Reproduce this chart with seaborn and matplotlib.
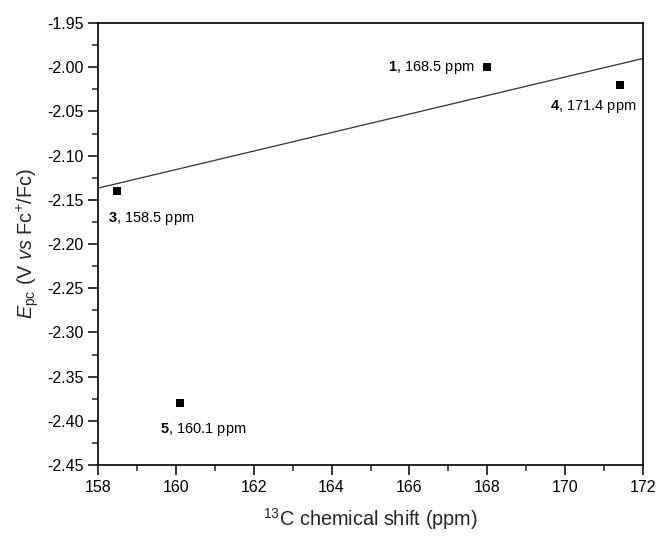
import numpy as np
import pandas as pd
import matplotlib
matplotlib.use("Agg")
import matplotlib.pyplot as plt
from matplotlib.ticker import MultipleLocator, FormatStrFormatter
import seaborn as sns

# Data
compound_ids = ["1", "4", "3", "5"]
shift_labels = ["168.5", "171.4", "158.5", "160.1"]
shift_ppm = [168.0, 171.4, 158.5, 160.1]
epc_values = [-2.00, -2.02, -2.14, -2.38]
in_fit = [True, True, True, False]

df = pd.DataFrame({"id": compound_ids, "lab": shift_labels,
                   "x": shift_ppm, "y": epc_values, "fit": in_fit})

sns.set_style("ticks")
plt.rcParams["font.family"] = ["Liberation Sans", "DejaVu Sans"]
plt.rcParams["axes.unicode_minus"] = False
plt.rcParams["mathtext.fontset"] = "custom"
plt.rcParams["mathtext.rm"] = "Liberation Sans"
plt.rcParams["mathtext.it"] = "Liberation Sans:italic"
plt.rcParams["mathtext.bf"] = "Liberation Sans:bold"

fig = plt.figure(figsize=(6.58, 5.39), dpi=100)
ax = fig.add_axes([98/658, 1-465/539, (643-98)/658, (465-23)/539])
ax.set_xlim(158, 172)
ax.set_ylim(-2.45, -1.95)

# regression line (points 1, 3, 4) extended across the axis
sns.regplot(data=df[df["fit"]], x="x", y="y", ax=ax, scatter=False,
            ci=None, truncate=False,
            line_kws=dict(color="#333333", lw=0.9))

sns.scatterplot(data=df, x="x", y="y", ax=ax, marker="s", s=30,
                color="black", edgecolor="black", linewidth=0, zorder=5)

offsets = {"1": (-13, 0, "right"), "4": (17, -22, "right"),
           "3": (-9, -28, "left"), "5": (-20, -26, "left")}
for _, r in df.iterrows():
    dx, dy, ha = offsets[r["id"]]
    ax.annotate(r"$\mathbf{" + r["id"] + "}$" + f", {r['lab']} ppm",
                (r["x"], r["y"]), xytext=(dx, dy), textcoords="offset pixels",
                ha=ha, va="center", fontsize=10.5, color="black")

ax.xaxis.set_major_locator(MultipleLocator(2))
ax.xaxis.set_minor_locator(MultipleLocator(1))
ax.yaxis.set_major_locator(MultipleLocator(0.05))
ax.yaxis.set_minor_locator(MultipleLocator(0.025))
ax.yaxis.set_major_formatter(FormatStrFormatter("%.2f"))
ax.xaxis.set_major_formatter(FormatStrFormatter("%d"))
ax.tick_params(which="major", direction="out", length=7, width=1.1,
               labelsize=11.5, colors="black", top=False, right=False)
ax.tick_params(which="minor", direction="out", length=4, width=1.1,
               top=False, right=False)
for sp in ax.spines.values():
    sp.set_visible(True)
    sp.set_linewidth(1.2)
    sp.set_color("black")

ax.set_xlabel(r"$^{13}$C chemical shift (ppm)", fontsize=14.3, labelpad=8)
ax.set_ylabel(r"$E_{\mathrm{pc}}$ (V $vs$ Fc$^{+}$/Fc)", fontsize=14.3, labelpad=4)

fig.savefig("out.png", dpi=100)
